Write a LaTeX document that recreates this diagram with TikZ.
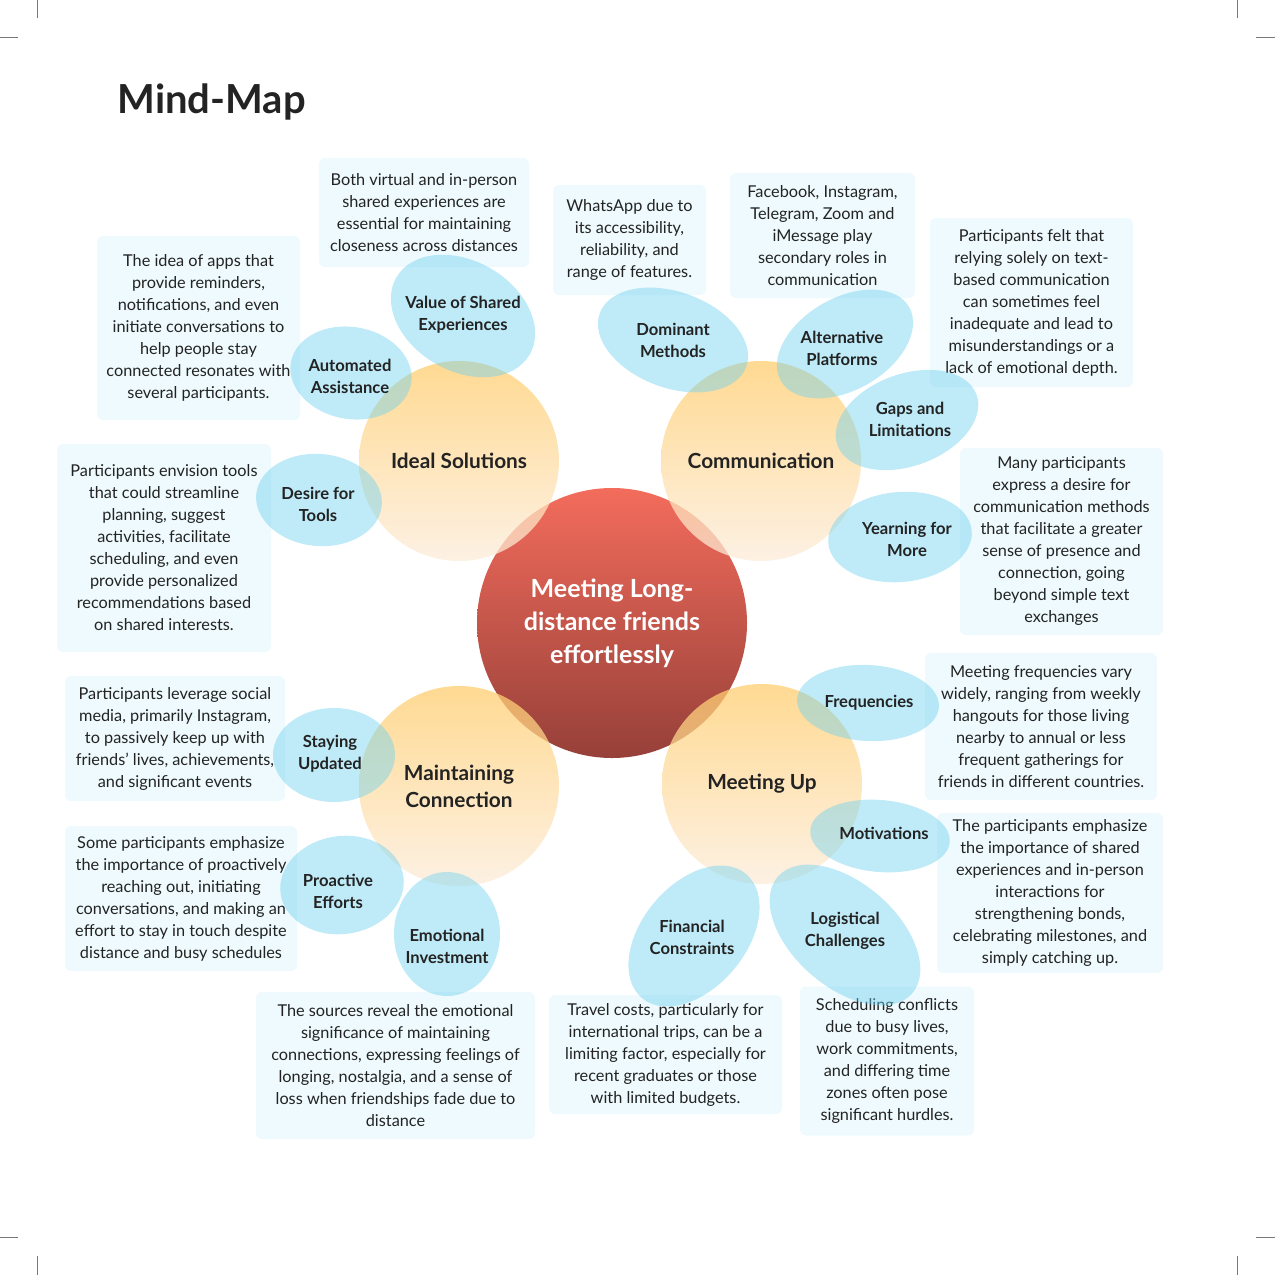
\documentclass[tikz,border=0pt]{standalone}
\usepackage{fontspec}
\setmainfont{Lato}
\usepackage{xcolor}
\usepackage{tikz}
\usetikzlibrary{positioning}

\definecolor{teks}{RGB}{35,35,35}
\definecolor{kotak}{RGB}{238,250,253}
\definecolor{biru}{RGB}{112,210,240}
\definecolor{oranyeatas}{RGB}{255,205,110}
\definecolor{oranyebawah}{RGB}{253,236,218}
\definecolor{merahatas}{RGB}{243,108,92}
\definecolor{merahbawah}{RGB}{150,64,57}
\definecolor{garis}{RGB}{120,120,120}

\begin{document}
\begin{tikzpicture}[
    x=1pt, y=-1pt,
    catatan/.style={fill=kotak, rounded corners=6pt, align=center, inner sep=0pt,
                    text=teks, font=\fontsize{16.3}{22}\selectfont},
    gelembung/.style={fill=biru, fill opacity=0.45},
    subtopik/.style={align=center, text=teks, inner sep=0pt,
                     font=\fontsize{16.6}{22}\selectfont\bfseries},
    cabang/.style={circle, minimum size=200pt, inner sep=0pt, align=center,
                   top color=oranyeatas, bottom color=oranyebawah,
                   fill opacity=0.75, text opacity=1, text=teks,
                   font=\fontsize{20.8}{27}\selectfont\bfseries},
    pusat/.style={circle, minimum size=270pt, inner sep=0pt, align=center,
                  top color=merahatas, bottom color=merahbawah, text=white,
                  font=\fontsize{25}{33}\selectfont\bfseries},
    potong/.style={garis, line width=0.8pt}
  ]
    \useasboundingbox (0,0) rectangle (1275,1275);
    % tanda potong di sudut
    \draw[potong] (37,0) -- (37,18);      \draw[potong] (0,37) -- (18,37);
    \draw[potong] (1237,0) -- (1237,18);  \draw[potong] (1256,37) -- (1275,37);
    \draw[potong] (0,1237) -- (18,1237);  \draw[potong] (37,1256) -- (37,1275);
    \draw[potong] (1256,1237) -- (1275,1237); \draw[potong] (1237,1256) -- (1237,1275);

    \node[anchor=base west, text=teks, font=\fontsize{40}{48}\selectfont\bfseries]
      (judul) at (114,113) {Mind-Map};

    % catatan
    \node[catatan, minimum width=210pt, minimum height=109pt] (nBersama) at (424,212.5)
      {Both virtual and in-person\\shared experiences are\\essential for maintaining\\closeness across distances};
    \node[catatan, minimum width=203pt, minimum height=184pt] (nOtomatis) at (198.5,328)
      {The idea of apps that\\provide reminders,\\notifications, and even\\initiate conversations to\\help people stay\\connected resonates with\\several participants.};
    \node[catatan, minimum width=214pt, minimum height=208pt] (nAlat) at (164,548)
      {Participants envision tools\\that could streamline\\planning, suggest\\activities, facilitate\\scheduling, and even\\provide personalized\\recommendations based\\on shared interests.};
    \node[catatan, minimum width=153pt, minimum height=110pt] (nDominan) at (629.5,240)
      {WhatsApp due to\\its accessibility,\\reliability, and\\range of features.};
    \node[catatan, minimum width=185pt, minimum height=125pt] (nAlternatif) at (822.5,235.5)
      {Facebook, Instagram,\\Telegram, Zoom and\\iMessage play\\secondary roles in\\communication};
    \node[catatan, minimum width=203pt, minimum height=169pt] (nCelah) at (1031.5,302.5)
      {Participants felt that\\relying solely on text-\\based communication\\can sometimes feel\\inadequate and lead to\\misunderstandings or a\\lack of emotional depth.};
    \node[catatan, minimum width=203pt, minimum height=187pt] (nLebih) at (1061.5,541.5)
      {Many participants\\express a desire for\\communication methods\\that facilitate a greater\\sense of presence and\\connection, going\\beyond simple text\\exchanges};
    \node[catatan, minimum width=232pt, minimum height=147pt] (nFrekuensi) at (1041,726.5)
      {Meeting frequencies vary\\widely, ranging from weekly\\hangouts for those living\\nearby to annual or less\\frequent gatherings for\\friends in different countries.};
    \node[catatan, minimum width=226pt, minimum height=160pt] (nMotivasi) at (1050,893)
      {The participants emphasize\\the importance of shared\\experiences and in-person\\interactions for\\strengthening bonds,\\celebrating milestones, and\\simply catching up.};
    \node[catatan, minimum width=174pt, minimum height=149pt] (nLogistik) at (887,1061)
      {Scheduling conflicts\\due to busy lives,\\work commitments,\\and differing time\\zones often pose\\significant hurdles.};
    \node[catatan, minimum width=233pt, minimum height=119pt] (nBiaya) at (665.5,1054.5)
      {Travel costs, particularly for\\international trips, can be a\\limiting factor, especially for\\recent graduates or those\\with limited budgets.};
    \node[catatan, minimum width=279pt, minimum height=147pt] (nEmosi) at (395.5,1065.5)
      {The sources reveal the emotional\\significance of maintaining\\connections, expressing feelings of\\longing, nostalgia, and a sense of\\loss when friendships fade due to\\distance};
    \node[catatan, minimum width=232pt, minimum height=145pt] (nProaktif) at (181,898.5)
      {Some participants emphasize\\the importance of proactively\\reaching out, initiating\\conversations, and making an\\effort to stay in touch despite\\distance and busy schedules};
    \node[catatan, minimum width=220pt, minimum height=125pt] (nKabar) at (175,738.5)
      {Participants leverage social\\media, primarily Instagram,\\to passively keep up with\\friends' lives, achievements,\\and significant events};

    % lingkaran utama
    \node[pusat] (inti) at (612,623) {Meeting Long-\\distance friends\\effortlessly};
    \node[cabang] (ideal) at (459,461) {Ideal Solutions};
    \node[cabang] (komunikasi) at (761,461) {Communication};
    \node[cabang] (hubungan) at (459,786) {Maintaining\\Connection};
    \node[cabang] (bertemu) at (762,784) {Meeting Up};

    % gelembung subtopik
    \fill[gelembung] (463,316) ellipse [x radius=77pt, y radius=55pt, rotate=-30];
    \fill[gelembung] (351,373) ellipse [x radius=61pt, y radius=46pt, rotate=-10];
    \fill[gelembung] (319,500) ellipse [x radius=63pt, y radius=46pt, rotate=-5];
    \fill[gelembung] (673,340) ellipse [x radius=78pt, y radius=48pt, rotate=-20];
    \fill[gelembung] (845,344) ellipse [x radius=74pt, y radius=46pt, rotate=30];
    \fill[gelembung] (907,420) ellipse [x radius=74pt, y radius=46pt, rotate=20];
    \fill[gelembung] (900,537) ellipse [x radius=72pt, y radius=45pt, rotate=5];
    \fill[gelembung] (868,703) ellipse [x radius=71pt, y radius=38pt, rotate=-3];
    \fill[gelembung] (880,836) ellipse [x radius=70pt, y radius=36pt, rotate=-5];
    \fill[gelembung] (845,935) ellipse [x radius=89pt, y radius=52pt, rotate=-41];
    \fill[gelembung] (694,936) ellipse [x radius=81pt, y radius=52pt, rotate=50];
    \fill[gelembung] (447,934) ellipse [x radius=53pt, y radius=62pt];
    \fill[gelembung] (342,885) ellipse [x radius=62pt, y radius=49pt, rotate=8];
    \fill[gelembung] (334,755) ellipse [x radius=61pt, y radius=47pt];

    \node[subtopik] (sBersama) at (463,315) {Value of Shared\\Experiences};
    \node[subtopik] (sOtomatis) at (350,376) {Automated\\Assistance};
    \node[subtopik] (sAlat) at (318,504) {Desire for\\Tools};
    \node[subtopik] (sDominan) at (673,340) {Dominant\\Methods};
    \node[subtopik] (sAlternatif) at (842,348) {Alternative\\Platforms};
    \node[subtopik] (sCelah) at (910,419) {Gaps and\\Limitations};
    \node[subtopik] (sLebih) at (907,539) {Yearning for\\More};
    \node[subtopik] (sFrekuensi) at (869,703) {Frequencies};
    \node[subtopik] (sMotivasi) at (884,833) {Motivations};
    \node[subtopik] (sLogistik) at (845,931) {Logistical\\Challenges};
    \node[subtopik] (sBiaya) at (692,937) {Financial\\Constraints};
    \node[subtopik] (sEmosi) at (447,946) {Emotional\\Investment};
    \node[subtopik] (sProaktif) at (338,891) {Proactive\\Efforts};
    \node[subtopik] (sKabar) at (330,754) {Staying\\Updated};
  \end{tikzpicture}
\end{document}
